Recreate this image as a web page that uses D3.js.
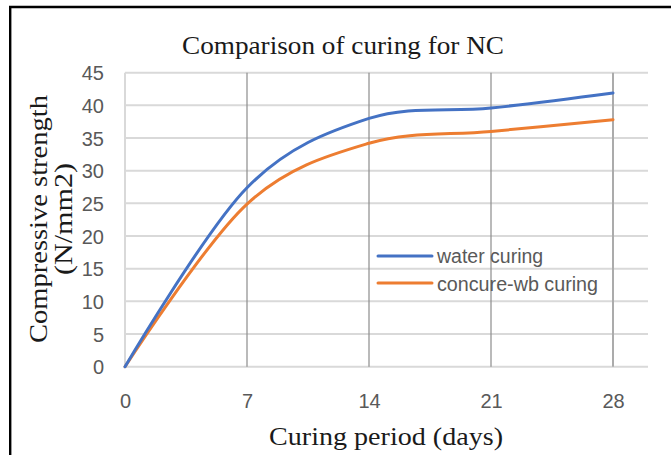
<!DOCTYPE html>
<html>
<head>
<meta charset="utf-8">
<script src="https://cdn.jsdelivr.net/npm/d3@7/dist/d3.min.js"></script>
<style>
  html, body { margin: 0; padding: 0; background: #fff; }
  svg { display: block; }
</style>
</head>
<body>
<svg id="chart" width="671" height="455"></svg>
<script>
// ---- data ----
const days = [0, 7, 14, 21, 28];
const waterCuring = [0, 27.4, 38.0, 39.6, 41.9];
const concureCuring = [0, 24.9, 34.2, 36.0, 37.8];
const yTicks = [0, 5, 10, 15, 20, 25, 30, 35, 40, 45];
const xTicks = [0, 7, 14, 21, 28];
const seriesNames = ["water curing", "concure-wb curing"];
const seriesColors = ["#4472C4", "#ED7D31"];
const titleText = "Comparison of curing for NC";
const xTitle = "Curing period (days)";
const yTitleLines = ["Compressive strength", "(N/mm2)"];

// ---- layout ----
const svg = d3.select("#chart");
const W = 671, H = 455;
const plot = { left: 125, right: 648, top: 72.7, bottom: 366.7 };

const x = d3.scaleLinear().domain([0, 28]).range([125, 613]);
const y = d3.scaleLinear().domain([0, 45]).range([plot.bottom, plot.top]);

svg.append("rect").attr("width", W).attr("height", H).attr("fill", "#fff");

// border (top & left visible)
svg.append("path")
  .attr("d", `M10.2,${H} L10.2,7 L${W},7`)
  .attr("fill", "none").attr("stroke", "#000").attr("stroke-width", 2.4);

// horizontal gridlines
svg.append("g").selectAll("line").data(yTicks).join("line")
  .attr("x1", plot.left).attr("x2", plot.right)
  .attr("y1", d => y(d)).attr("y2", d => y(d))
  .attr("stroke", "#D9D9D9").attr("stroke-width", 2);

// left axis line (light)
svg.append("line")
  .attr("x1", x(0)).attr("x2", x(0))
  .attr("y1", plot.top).attr("y2", plot.bottom)
  .attr("stroke", "#D9D9D9").attr("stroke-width", 2);

// vertical gridlines
svg.append("g").selectAll("line").data(xTicks.filter(d => d > 0)).join("line")
  .attr("x1", d => x(d)).attr("x2", d => x(d))
  .attr("y1", plot.top).attr("y2", plot.bottom)
  .attr("stroke", d => d === 28 ? "#ABABAB" : "#8C8C8C")
  .attr("stroke-width", d => d === 28 ? 2 : 1.2);

// y axis labels
const yAxis = svg.append("g")
  .attr("transform", `translate(104,0)`)
  .call(d3.axisLeft(y).tickValues(yTicks).tickSize(0).tickPadding(0));
yAxis.select(".domain").remove();
yAxis.selectAll("text")
  .attr("font-family", "'Liberation Sans', Arial, sans-serif")
  .attr("font-size", 20).attr("fill", "#595959")
  .attr("dy", "0.36em");

// x axis labels
const xAxis = svg.append("g")
  .attr("transform", `translate(0,${plot.bottom})`)
  .call(d3.axisBottom(x).tickValues(xTicks).tickSize(0).tickPadding(0));
xAxis.select(".domain").remove();
xAxis.selectAll("text")
  .attr("font-family", "'Liberation Sans', Arial, sans-serif")
  .attr("font-size", 20).attr("fill", "#595959")
  .attr("dy", null).attr("y", 41.5);

// series lines
const line = d3.line().x(d => x(d[0])).y(d => y(d[1])).curve(d3.curveCardinal.tension(0));
const series = [waterCuring, concureCuring];
series.slice().reverse().forEach((vals, ri) => {
  const i = series.length - 1 - ri;
  svg.append("path")
    .datum(days.map((d, k) => [d, vals[k]]))
    .attr("d", line)
    .attr("fill", "none")
    .attr("stroke", seriesColors[i])
    .attr("stroke-width", 3)
    .attr("stroke-linecap", "round");
});

// legend
const legendY = [256, 283];
const legendBaseline = [262.5, 290.5];
const legendWidths = [null, 161];
seriesNames.forEach((name, i) => {
  svg.append("line")
    .attr("x1", 378).attr("x2", 432)
    .attr("y1", legendY[i]).attr("y2", legendY[i])
    .attr("stroke", seriesColors[i]).attr("stroke-width", 3)
    .attr("stroke-linecap", "round");
  const t = svg.append("text")
    .attr("x", 437).attr("y", legendBaseline[i])
    .attr("font-family", "'Liberation Sans', Arial, sans-serif")
    .attr("font-size", 19.5).attr("fill", "#595959")
    .text(name);
  if (legendWidths[i]) t.attr("textLength", legendWidths[i]).attr("lengthAdjust", "spacingAndGlyphs");
});

// title
svg.append("text")
  .attr("x", 343).attr("y", 54)
  .attr("text-anchor", "middle")
  .attr("font-family", "'Liberation Serif', 'DejaVu Serif', serif")
  .attr("font-size", 26).attr("fill", "#1a1a1a")
  .attr("textLength", 322).attr("lengthAdjust", "spacingAndGlyphs")
  .text(titleText);

// x title
svg.append("text")
  .attr("x", 386).attr("y", 445)
  .attr("text-anchor", "middle")
  .attr("font-family", "'Liberation Serif', 'DejaVu Serif', serif")
  .attr("font-size", 25).attr("fill", "#1a1a1a")
  .attr("textLength", 234).attr("lengthAdjust", "spacingAndGlyphs")
  .text(xTitle);

// y title (two lines)
const yTitleBaselineX = [47, 72];
const yTitleLengths = [248, 112];
yTitleLines.forEach((s, i) => {
  svg.append("text")
    .attr("transform", `translate(${yTitleBaselineX[i]},219) rotate(-90)`)
    .attr("text-anchor", "middle")
    .attr("font-family", "'Liberation Serif', 'DejaVu Serif', serif")
    .attr("font-size", 25).attr("fill", "#1a1a1a")
    .attr("textLength", yTitleLengths[i]).attr("lengthAdjust", "spacingAndGlyphs")
    .text(s);
});
</script>
</body>
</html>
